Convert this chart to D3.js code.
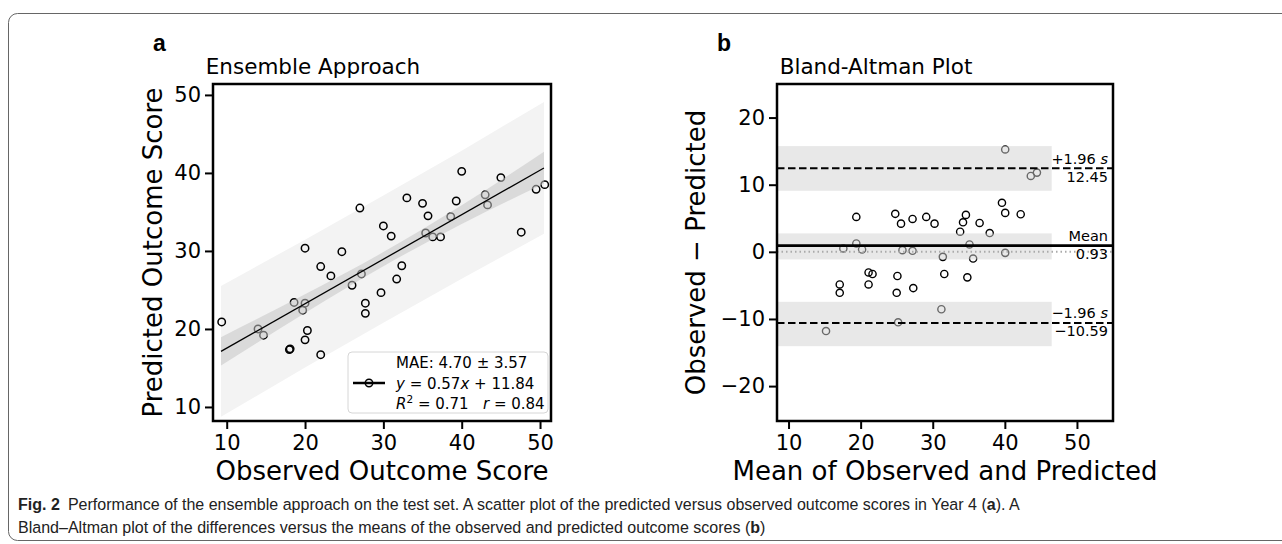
<!DOCTYPE html>
<html>
<head>
<meta charset="utf-8">
<script src="https://cdn.jsdelivr.net/npm/d3@7"></script>
<style>
  body { margin: 0; background: #fff; }
  svg text { font-family: "DejaVu Sans", sans-serif; fill: #000; }
  svg text.caption, svg text.panel { font-family: "Liberation Sans", Arial, sans-serif; }
</style>
</head>
<body>
<svg id="fig" width="1282" height="544"></svg>
<script>
// panel a: observed vs predicted outcome scores
const observed = [9.36, 14.0, 14.7, 18.0, 18.1, 18.6, 19.7, 20.0, 20.0, 20.3, 20.0, 22.0, 22.0, 23.3, 24.7, 26.0, 27.0, 27.2, 27.7, 27.7,
  29.7, 30.0, 31.0, 31.7, 32.35, 33.0, 35.0, 35.4, 35.7, 36.3, 37.3, 38.6, 39.3, 40.0, 43.0, 43.3, 45.0, 47.6, 49.5, 50.6];
const predicted = [20.9, 20.0, 19.2, 17.35, 17.45, 23.4, 22.4, 23.3, 30.35, 19.8, 18.6, 28.0, 16.7, 26.8, 29.9, 25.6, 35.5, 27.05, 23.3, 22.0,
  24.65, 33.2, 31.9, 26.4, 28.1, 36.8, 36.1, 32.3, 34.5, 31.8, 31.8, 34.4, 36.4, 40.2, 37.2, 35.9, 39.4, 32.4, 37.9, 38.5];

// regression line and its bands
const regX = [9.27, 50.5];
const regY = [17.12, 40.63];
const bandX = [9.27, 20, 30, 40, 50.5];
const confLo = [15.3, 22.05, 28.05, 33.45, 38.6];
const confHi = [18.95, 24.45, 29.85, 35.85, 42.7];
const predLo = [8.75, 15.05, 20.8, 26.45, 32.2];
const predHi = [25.5, 31.45, 37.1, 42.85, 49.1];
const ticksA = [10, 20, 30, 40, 50];

// panel b: Bland-Altman
const baMean = [15.2, 17.1, 17.1, 17.6, 19.4, 19.4, 20.2, 21.1, 21.65, 21.1, 24.8, 25.6, 25.8, 25.1, 25.0, 25.2, 27.2, 27.2, 27.3, 29.1,
  30.25, 31.4, 31.6, 31.2, 33.8, 34.2, 34.6, 34.8, 35.1, 35.6, 36.5, 37.9, 39.6, 40.05, 40.05, 40.05, 42.2, 43.6, 44.45];
const baDiff = [-11.8, -4.86, -6.1, 0.5, 5.2, 1.25, 0.35, -3.07, -3.3, -4.86, 5.66, 4.2, 0.25, -3.6, -6.1, -10.5, 4.9, 0.15, -5.4, 5.2,
  4.2, -0.75, -3.3, -8.55, 3.0, 4.4, 5.5, -3.8, 1.1, -1.0, 4.3, 2.8, 7.3, 5.8, 15.25, -0.15, 5.6, 11.3, 11.8];
const limitNames = ["+1.96 s", "Mean", "\u22121.96 s"];
const limitValues = [12.45, 0.93, -10.59];
const limitCiLo = [9.1, -1.13, -14.05];
const limitCiHi = [15.75, 2.74, -7.45];
const ciBandX = [8.4, 46.5];
const ticksBx = [10, 20, 30, 40, 50];
const ticksBy = [-20, -10, 0, 10, 20];

const svg = d3.select("#fig");

// figure frame
svg.append("rect")
  .attr("x", 8.5).attr("y", 13.5).attr("width", 1300).attr("height", 527).attr("rx", 9)
  .attr("fill", "none").attr("stroke", "#666").attr("stroke-width", 1);

const axTop = 84, axBottom = 421;

// ---------- panel a ----------
const xA = d3.scaleLinear().domain([8.25, 51.4]).range([213, 551]);
const yA = d3.scaleLinear().domain([8.2, 51.4]).range([axBottom, axTop]);
const gA = svg.append("g");

const bandData = bandX.map((x, i) => ({ x, cl: confLo[i], ch: confHi[i], pl: predLo[i], ph: predHi[i] }));

gA.append("path")
  .datum(bandData)
  .attr("fill", "#f3f3f3")
  .attr("d", d3.area().x(d => xA(d.x)).y0(d => yA(d.pl)).y1(d => yA(d.ph)));

gA.selectAll(".pt")
  .data(observed.map((o, i) => [o, predicted[i]]))
  .join("circle")
  .attr("cx", d => xA(d[0]))
  .attr("cy", d => yA(d[1]))
  .attr("r", 3.7)
  .attr("fill", "none")
  .attr("stroke", "#000")
  .attr("stroke-width", 1.5);

gA.append("path")
  .datum(bandData)
  .attr("fill", "#c4c4c4")
  .attr("fill-opacity", 0.55)
  .attr("d", d3.area().curve(d3.curveMonotoneX).x(d => xA(d.x)).y0(d => yA(d.cl)).y1(d => yA(d.ch)));

gA.append("line")
  .attr("x1", xA(regX[0])).attr("y1", yA(regY[0]))
  .attr("x2", xA(regX[1])).attr("y2", yA(regY[1]))
  .attr("stroke", "#000").attr("stroke-width", 1.3);

// legend
const leg = gA.append("g").attr("transform", "translate(348,352)");
leg.append("rect").attr("width", 200).attr("height", 61).attr("rx", 4)
  .attr("fill", "#fff").attr("fill-opacity", 0.8).attr("stroke", "#d6d6d6");
leg.append("line").attr("x1", 5).attr("x2", 37).attr("y1", 31).attr("y2", 31)
  .attr("stroke", "#000").attr("stroke-width", 2.5);
leg.append("circle").attr("cx", 21).attr("cy", 31).attr("r", 3.7)
  .attr("fill", "none").attr("stroke", "#000").attr("stroke-width", 1.5);
const legText = leg.append("g").style("font-size", "15px");
legText.append("text").attr("x", 48).attr("y", 16).text("MAE: 4.70 \u00b1 3.57");
const l2 = legText.append("text").attr("x", 48).attr("y", 36.5);
l2.append("tspan").style("font-style", "italic").text("y");
l2.append("tspan").text(" = 0.57");
l2.append("tspan").style("font-style", "italic").text("x");
l2.append("tspan").text(" + 11.84");
const l3 = legText.append("text").attr("x", 48).attr("y", 56.5);
l3.append("tspan").style("font-style", "italic").text("R");
l3.append("tspan").attr("dy", -6).style("font-size", "10.5px").text("2");
l3.append("tspan").attr("dy", 6).text(" = 0.71\u00a0\u00a0\u00a0");
l3.append("tspan").style("font-style", "italic").text("r");
l3.append("tspan").text(" = 0.84");

// ---------- panel b ----------
const xB = d3.scaleLinear().domain([8.4, 55]).range([777, 1113]);
const yB = d3.scaleLinear().domain([-25.2, 25]).range([axBottom, axTop]);
const gB = svg.append("g");

gB.selectAll(".pt")
  .data(baMean.map((m, i) => [m, baDiff[i]]))
  .join("circle")
  .attr("cx", d => xB(d[0]))
  .attr("cy", d => yB(d[1]))
  .attr("r", 3.6)
  .attr("fill", "none")
  .attr("stroke", "#000")
  .attr("stroke-width", 1.4);

gB.selectAll(".ci")
  .data(limitValues)
  .join("rect")
  .attr("x", xB(ciBandX[0]))
  .attr("width", xB(ciBandX[1]) - xB(ciBandX[0]))
  .attr("y", (d, i) => yB(limitCiHi[i]))
  .attr("height", (d, i) => yB(limitCiLo[i]) - yB(limitCiHi[i]))
  .attr("fill", "#d2d2d2")
  .attr("fill-opacity", 0.5);

gB.append("line")
  .attr("x1", xB.range()[0]).attr("x2", xB.range()[1])
  .attr("y1", yB(0)).attr("y2", yB(0))
  .attr("stroke", "#aaa").attr("stroke-width", 2).attr("stroke-dasharray", "1.5,3");

gB.selectAll(".lim")
  .data(limitValues)
  .join("line")
  .attr("x1", xB.range()[0]).attr("x2", xB.range()[1])
  .attr("y1", d => yB(d)).attr("y2", d => yB(d))
  .attr("stroke", "#000")
  .attr("stroke-width", (d, i) => i === 1 ? 2.7 : 2)
  .attr("stroke-dasharray", (d, i) => i === 1 ? null : "7.5,3.5");

const limLabels = gB.append("g").style("font-size", "14.5px").attr("text-anchor", "end");
limitValues.forEach((v, i) => {
  const t = limLabels.append("text").attr("x", 1108).attr("y", yB(v) - 4.5);
  if (i === 1) t.text(limitNames[i]);
  else {
    t.append("tspan").text(limitNames[i].slice(0, -2) + " ");
    t.append("tspan").style("font-style", "italic").text("s");
  }
  limLabels.append("text").attr("x", 1108).attr("y", yB(v) + 13.5)
    .text(d3.format(".2f")(v).replace("-", "\u2212"));
});

// ---------- axes, spines, labels ----------
function frame(g, x, y, xt, yt) {
  const xa = g.append("g").attr("transform", `translate(0,${axBottom})`)
    .call(d3.axisBottom(x).tickValues(xt).tickSize(8).tickPadding(6).tickSizeOuter(0));
  const ya = g.append("g").attr("transform", `translate(${x.range()[0]},0)`)
    .call(d3.axisLeft(y).tickValues(yt).tickSize(8).tickPadding(4).tickSizeOuter(0));
  [xa, ya].forEach(a => {
    a.select(".domain").remove();
    a.selectAll(".tick line").attr("stroke", "#000").attr("stroke-width", 2);
    a.selectAll(".tick text").style("font-size", "21px").attr("fill", "#000");
  });
  g.append("rect")
    .attr("x", x.range()[0]).attr("y", axTop)
    .attr("width", x.range()[1] - x.range()[0]).attr("height", axBottom - axTop)
    .attr("fill", "none").attr("stroke", "#000").attr("stroke-width", 2.5);
}
frame(gA, xA, yA, ticksA, ticksA);
frame(gB, xB, yB, ticksBx, ticksBy);

// title sits left of the axes centre in the source figure
function labels(g, x, panel, title, titleX, xlab, ylab, ylabX) {
  const cx = (x.range()[0] + x.range()[1]) / 2;
  const cy = (axTop + axBottom) / 2;
  g.append("text").attr("x", titleX).attr("y", 73.5).attr("text-anchor", "middle")
    .style("font-size", "21.5px").text(title);
  g.append("text").attr("class", "panel").attr("x", x.range()[0] - 60).attr("y", 51)
    .style("font-weight", "bold").style("font-size", "23px").text(panel);
  g.append("text").attr("x", cx).attr("y", 480).attr("text-anchor", "middle")
    .style("font-size", "26px").text(xlab);
  g.append("text").attr("transform", `translate(${ylabX},${cy}) rotate(-90)`)
    .attr("text-anchor", "middle").style("font-size", "26px").text(ylab);
}
labels(gA, xA, "a", "Ensemble Approach", 313, "Observed Outcome Score", "Predicted Outcome Score", 162);
labels(gB, xB, "b", "Bland-Altman Plot", 876, "Mean of Observed and Predicted", "Observed \u2212 Predicted", 705);

// caption, squeezed horizontally to look like the condensed journal face
const cap = svg.append("g").attr("transform", "translate(18,0)").style("font-size", "16.5px");
const c1 = cap.append("text").attr("class", "caption").attr("x", 0).attr("y", 510).style("fill", "#222");
c1.append("tspan").style("font-weight", "bold").text("Fig. 2");
c1.append("tspan").text("\u2002Performance of the ensemble approach on the test set. A scatter plot of the predicted versus observed outcome scores in Year 4 (");
c1.append("tspan").style("font-weight", "bold").text("a");
c1.append("tspan").text("). A");
const c2 = cap.append("text").attr("class", "caption").attr("x", 0).attr("y", 533).style("fill", "#222");
c2.append("tspan").text("Bland\u2013Altman plot of the differences versus the means of the observed and predicted outcome scores (");
c2.append("tspan").style("font-weight", "bold").text("b");
c2.append("tspan").text(")");
const sx = 1002 / c1.node().getComputedTextLength();
cap.attr("transform", `translate(18,0) scale(${sx},1)`);
</script>
</body>
</html>
